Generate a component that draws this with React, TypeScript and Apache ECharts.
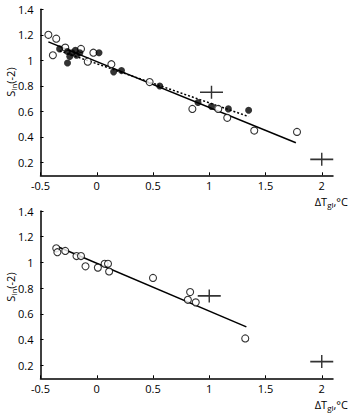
import React, { useEffect, useRef } from "react";
import * as echarts from "echarts";

const xTicks = [-0.5, 0, 0.5, 1, 1.5, 2];
const yTicks = [0.2, 0.4, 0.6, 0.8, 1, 1.2, 1.4];

const topOpenX = [-0.43, -0.36, -0.39, -0.28, -0.14, -0.08, -0.03, 0.13, 0.47, 0.85, 1.08, 1.16, 1.4, 1.78];
const topOpenY = [1.2, 1.17, 1.04, 1.1, 1.09, 0.99, 1.06, 0.97, 0.83, 0.62, 0.62, 0.55, 0.45, 0.44];

const topFilledX = [-0.33, -0.26, -0.26, -0.24, -0.22, -0.19, -0.18, -0.15, 0.02, 0.15, 0.22, 0.56, 0.9, 1.02, 1.17, 1.35];
const topFilledY = [1.09, 0.98, 1.07, 1.03, 1.06, 1.08, 1.04, 1.06, 1.06, 0.91, 0.92, 0.8, 0.67, 0.64, 0.62, 0.61];

const bottomOpenX = [-0.36, -0.35, -0.28, -0.18, -0.14, -0.1, 0.01, 0.07, 0.1, 0.11, 0.5, 0.83, 0.81, 0.88, 1.32];
const bottomOpenY = [1.11, 1.08, 1.09, 1.05, 1.05, 0.97, 0.96, 0.99, 0.99, 0.93, 0.88, 0.77, 0.71, 0.69, 0.41];

const topCrossX = [1.02, 2.0];
const topCrossY = [0.75, 0.225];
const bottomCrossX = [1.0, 2.0];
const bottomCrossY = [0.74, 0.23];

const topSolidX = [-0.43, 1.77];
const topSolidY = [1.145, 0.355];
const topDottedX = [-0.33, 1.35];
const topDottedY = [1.075, 0.56];
const bottomSolidX = [-0.34, 1.33];
const bottomSolidY = [1.12, 0.5];

const FONT = "Open Sans";
const zip = (xs: number[], ys: number[]) => xs.map((x, i) => [x, ys[i]]);
const CROSS = "path://M0,5.25H24V6.75H0Z M11.25,0H12.75V12H11.25Z";

export default function App() {
  const ref = useRef<HTMLDivElement>(null);
  useEffect(() => {
    if (!ref.current) return;
    const chart = echarts.init(ref.current, undefined, { renderer: "svg" });
    const xAxisBase = (gi: number) => ({
      gridIndex: gi,
      type: "value",
      min: -0.5,
      max: 2.1,
      interval: 0.5,
      axisLine: { show: true, onZero: false, lineStyle: { color: "#000", width: 1.5 } },
      axisTick: { show: true, inside: true, length: 3, customValues: xTicks, lineStyle: { color: "#000", width: 1 } },
      axisLabel: { customValues: xTicks, color: "#000", fontSize: 11, fontFamily: FONT, margin: 5 },
      splitLine: { show: false },
    });
    const yAxisBase = (gi: number) => ({
      gridIndex: gi,
      type: "value",
      min: 0.1,
      max: 1.4,
      axisLine: { show: true, onZero: false, lineStyle: { color: "#000", width: 1.5 } },
      axisTick: { show: true, inside: true, length: 3, customValues: yTicks, lineStyle: { color: "#000", width: 1 } },
      axisLabel: { customValues: yTicks, color: "#000", fontSize: 11, fontFamily: FONT, margin: 7 },
      splitLine: { show: false },
    });
    const openStyle = { color: "#fff", borderColor: "#000", borderWidth: 1.1 };
    const richLabel = {
      a: { fontSize: 11, fontFamily: FONT, color: "#000", lineHeight: 14 },
      b: { fontSize: 8, fontFamily: FONT, color: "#000", lineHeight: 14, padding: [6, 0, 0, 0] },
    };
    const scatter = (xi: number, data: number[][], style: any, z = 3) => ({
      type: "scatter",
      xAxisIndex: xi,
      yAxisIndex: xi,
      data,
      symbol: "circle",
      symbolSize: 7,
      itemStyle: style,
      z,
      silent: true,
    });
    const line = (xi: number, data: number[][], type: any) => ({
      type: "line",
      xAxisIndex: xi,
      yAxisIndex: xi,
      data,
      symbol: "none",
      lineStyle: { color: "#000", width: 1.5, type },
      z: 2,
      silent: true,
    });
    const cross = (xi: number, data: number[][]) => ({
      type: "scatter",
      xAxisIndex: xi,
      yAxisIndex: xi,
      data,
      symbol: CROSS,
      symbolSize: [23, 13],
      itemStyle: { color: "#000" },
      z: 4,
      silent: true,
    });
    chart.setOption({
      animation: false,
      grid: [
        { left: 40.5, top: 9.3, width: 292.5, height: 166, containLabel: false },
        { left: 40.5, top: 211, width: 292.5, height: 167.3, containLabel: false },
      ],
      xAxis: [xAxisBase(0), xAxisBase(1)],
      yAxis: [yAxisBase(0), yAxisBase(1)],
      graphic: [
        { type: "text", x: 348, y: 201, style: { text: "{a|ΔT}{b|gl}{a|,°C}", rich: richLabel, align: "right", verticalAlign: "middle" } },
        { type: "text", x: 348, y: 404, style: { text: "{a|ΔT}{b|gl}{a|,°C}", rich: richLabel, align: "right", verticalAlign: "middle" } },
        { type: "text", x: 10, y: 82, rotation: Math.PI / 2, style: { text: "{a|S}{b|in}{a|(-2)}", rich: richLabel, align: "center", verticalAlign: "middle" } },
        { type: "text", x: 10, y: 287, rotation: Math.PI / 2, style: { text: "{a|S}{b|in}{a|(-2)}", rich: richLabel, align: "center", verticalAlign: "middle" } },
      ],
      series: [
        line(0, zip(topSolidX, topSolidY), "solid"),
        line(0, zip(topDottedX, topDottedY), [2, 2]),
        scatter(0, zip(topOpenX, topOpenY), openStyle),
        scatter(0, zip(topFilledX, topFilledY), { color: "#000" }, 4),
        cross(0, zip(topCrossX, topCrossY)),
        line(1, zip(bottomSolidX, bottomSolidY), "solid"),
        scatter(1, zip(bottomOpenX, bottomOpenY), openStyle),
        cross(1, zip(bottomCrossX, bottomCrossY)),
      ],
    });
    return () => chart.dispose();
  }, []);
  return <div ref={ref} style={{ position: "fixed", left: 0, top: 0, width: 351, height: 420, background: "#fff" }} />;
}
